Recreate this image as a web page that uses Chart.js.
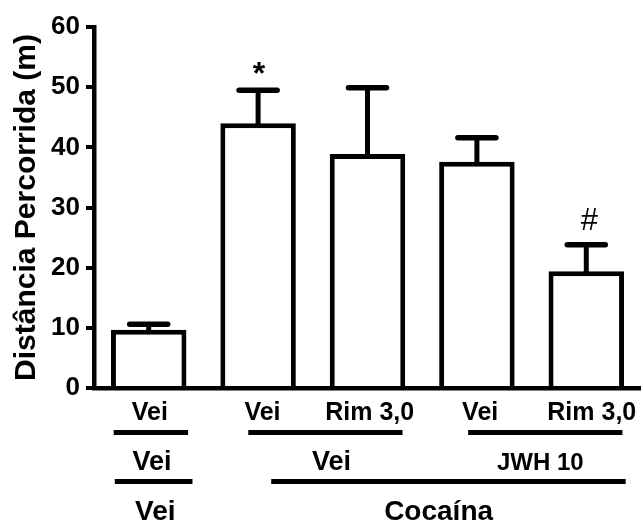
<!DOCTYPE html>
<html><head><meta charset="utf-8">
<script src="https://cdn.jsdelivr.net/npm/chart.js@4.4.0/dist/chart.umd.min.js"></script>
<style>html,body{margin:0;padding:0;background:#fff}canvas{display:block}</style>
</head><body>
<canvas id="c" width="641" height="522"></canvas>
<script>
// ---- data ----
const categories = ['Vei', 'Vei', 'Rim 3,0', 'Vei', 'Rim 3,0'];
const means = [9.7, 44.0, 38.9, 37.6, 19.4];
const sems = [0.9, 5.5, 11.0, 4.0, 4.4];
const marks = ['', '*', '', '', '#'];
const yTickValues = [0, 10, 20, 30, 40, 50, 60];
const pretreatLabels = ['Vei', 'Vei', 'JWH 10'];
const pretreatGroups = [[0, 0], [1, 2], [3, 4]];
const treatLabels = ['Vei', 'Cocaína'];
const treatGroups = [[0, 0], [1, 4]];
const yTitle = 'Distância Percorrida (m)';

// ---- style / layout (not data) ----
const FONT = "'Liberation Sans', Arial, Helvetica, sans-serif";
const S = {
  row1Baseline: 32, row1Size: 25,
  line1Y: 44.5, line2Y: 93.5, lineW: 5,
  row2Baseline: 82, row2Size: 27, jwhSize: 24,
  row3Baseline: 132, row3Size: 28,
  row1X: [0.01, 1.04, 2.02, 3.03, 4.05],
  line1: [[-0.32, 0.36], [0.91, 2.32], [2.92, 4.33]],
  row2X: [0.03, 1.67, 3.58],
  line2: [[-0.31, 0.40], [1.12, 4.36]],
  row3X: [0.06, 2.65],
  capHalf: 19, stemW: 5, capW: 5.5,
  mark: { '*': { size: 32, weight: 'bold', dy: -6, dx: 1 }, '#': { size: 31, weight: 'normal', dy: -15, dx: 3 } }
};

const annot = {
  id: 'annot',
  afterDatasetsDraw(chart) {
    const ctx = chart.ctx, x = chart.scales.x, y = chart.scales.y;
    const meta = chart.getDatasetMeta(0);
    ctx.save();
    ctx.strokeStyle = '#000'; ctx.fillStyle = '#000';
    // error bars (upper only)
    ctx.lineCap = 'round';
    meta.data.forEach((bar, i) => {
      const xc = bar.x;
      const yTop = y.getPixelForValue(means[i]);
      const yErr = y.getPixelForValue(means[i] + sems[i]);
      ctx.lineWidth = S.stemW;
      ctx.beginPath(); ctx.moveTo(xc, yTop + 2); ctx.lineTo(xc, yErr); ctx.stroke();
      ctx.lineWidth = S.capW;
      ctx.beginPath(); ctx.moveTo(xc - S.capHalf, yErr); ctx.lineTo(xc + S.capHalf, yErr); ctx.stroke();
      const m = marks[i];
      if (m) {
        const st = S.mark[m];
        ctx.font = `${st.weight} ${st.size}px ${FONT}`;
        ctx.textAlign = 'center'; ctx.textBaseline = 'alphabetic';
        ctx.fillText(m, xc + st.dx, yErr + st.dy);
      }
    });
    // group labels below axis
    const x0 = x.getPixelForValue(0), step = x.getPixelForValue(1) - x0;
    const px = u => x0 + u * step;
    const b = chart.chartArea.bottom;
    ctx.lineCap = 'butt';
    ctx.textAlign = 'center'; ctx.textBaseline = 'alphabetic';
    ctx.font = `bold ${S.row1Size}px ${FONT}`;
    categories.forEach((c, i) => ctx.fillText(c, px(S.row1X[i]), b + S.row1Baseline));
    ctx.lineWidth = S.lineW;
    pretreatGroups.forEach((g, i) => {
      const [u1, u2] = S.line1[i];
      ctx.beginPath(); ctx.moveTo(px(u1), b + S.line1Y); ctx.lineTo(px(u2), b + S.line1Y); ctx.stroke();
      const sz = pretreatLabels[i].length > 3 ? S.jwhSize : S.row2Size;
      ctx.font = `bold ${sz}px ${FONT}`;
      ctx.fillText(pretreatLabels[i], px(S.row2X[i]), b + S.row2Baseline);
    });
    treatGroups.forEach((g, i) => {
      const [u1, u2] = S.line2[i];
      ctx.beginPath(); ctx.moveTo(px(u1), b + S.line2Y); ctx.lineTo(px(u2), b + S.line2Y); ctx.stroke();
      ctx.font = `bold ${S.row3Size}px ${FONT}`;
      ctx.fillText(treatLabels[i], px(S.row3X[i]), b + S.row3Baseline);
    });
    ctx.restore();
  }
};

new Chart(document.getElementById('c'), {
  type: 'bar',
  data: {
    labels: categories,
    datasets: [{
      data: means,
      backgroundColor: '#fff',
      borderColor: '#000',
      borderWidth: 5,
      borderSkipped: 'bottom',
      barPercentage: 0.69,
      categoryPercentage: 1
    }]
  },
  options: {
    responsive: false,
    animation: false,
    layout: { padding: { top: 27, right: 0, bottom: 0, left: 0 } },
    plugins: { legend: { display: false }, tooltip: { enabled: false } },
    scales: {
      x: {
        ticks: { display: false },
        grid: { display: false, drawTicks: false },
        border: { display: true, color: '#000', width: 4.5 },
        afterFit(s) { s.height = 134; }
      },
      y: {
        min: 0, max: 60,
        afterBuildTicks(s) { s.ticks = yTickValues.map(v => ({ value: v })); },
        ticks: { color: '#000', padding: 6, font: { family: FONT, size: 26, weight: 'bold' } },
        grid: { drawOnChartArea: false, drawTicks: true, tickLength: 8, color: '#000', lineWidth: 4 },
        border: { display: true, color: '#000', width: 4.5 },
        title: { display: true, text: yTitle, color: '#000', padding: { top: 9, bottom: 0 },
                 font: { family: FONT, size: 30, weight: 'bold' } },
        afterFit(s) { s.width = 94; }
      }
    }
  },
  plugins: [annot]
});
</script>
</body></html>
